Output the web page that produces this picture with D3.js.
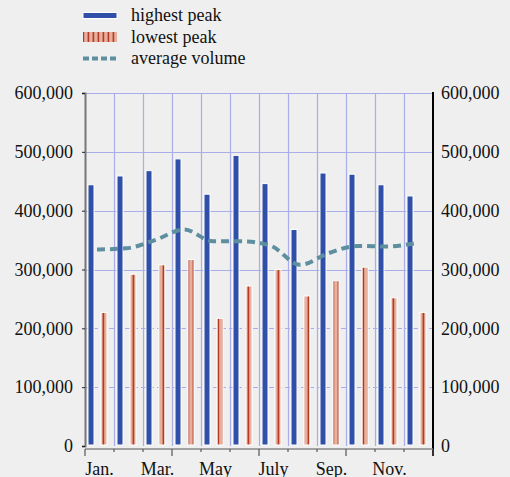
<!DOCTYPE html>
<html><head><meta charset="utf-8">
<script src="https://cdn.jsdelivr.net/npm/d3@7"></script>
<style>
html,body{margin:0;padding:0;background:#efefef;}
svg{display:block;}
text{font-family:"Liberation Serif","Times New Roman",serif;fill:#111;}
</style></head>
<body>
<script>
const months = ["Jan.","Feb.","Mar.","Apr.","May","June","July","Aug.","Sep.","Oct.","Nov.","Dec."];
const labeledMonths = ["Jan.","Mar.","May","July","Sep.","Nov."];
const highestPeak = [444000,459000,468000,488000,428000,494000,446000,368000,464000,462000,444000,425000];
const lowestPeak  = [227000,292000,308000,317000,217000,272000,300000,255000,281000,304000,252000,227000];
const averageVolume = [334000,336000,350000,368000,348000,348000,340000,308000,328000,340000,339000,345000];
const yTicks = [0,100000,200000,300000,400000,500000,600000];
const seriesNames = ["highest peak","lowest peak","average volume"];

(function(){
const W = 510, H = 477;
const svg = d3.select("body").append("svg").attr("width", W).attr("height", H);

const defs = svg.append("defs");
const pat = defs.append("pattern").attr("id","stripes").attr("patternUnits","userSpaceOnUse")
  .attr("width",5).attr("height",10).attr("x",0);
pat.append("rect").attr("width",5).attr("height",10).attr("fill","#e8b09c");
pat.append("rect").attr("x",2.6).attr("width",1.6).attr("height",10).attr("fill","#b23a26");

const pLeft = 85, pRight = 433, pTop = 93, pBottom = 446;
const x = d3.scaleBand().domain(months).range([pLeft, pRight]).padding(0);
const xs = d3.scaleBand().domain(["high","low"]).range([3, 22]).paddingInner(0.538).paddingOuter(0);
const y = d3.scaleLinear().domain([0, 600000]).range([pBottom, pTop]);
const fmt = d3.format(",");

// grid
const grid = svg.append("g");
grid.selectAll("line.h").data(yTicks.filter(v => v > 0)).join("line")
  .attr("x1", pLeft).attr("x2", pRight)
  .attr("y1", d => Math.round(y(d)) + 0.5).attr("y2", d => Math.round(y(d)) + 0.5)
  .attr("stroke", "#a9aeea").attr("stroke-width", 1.2)
  .attr("stroke-dasharray", d => d < 300000 ? "5,3" : null);
grid.selectAll("line.v").data(months.slice(1)).join("line")
  .attr("x1", d => x(d) + 0.5).attr("x2", d => x(d) + 0.5)
  .attr("y1", pTop).attr("y2", pBottom)
  .attr("stroke", "#a9aeea").attr("stroke-width", 1.2);

// bars
const bars = svg.append("g");
bars.selectAll("rect.hi").data(months).join("rect")
  .attr("x", d => x(d) + xs("high"))
  .attr("width", xs.bandwidth())
  .attr("y", (d,i) => y(highestPeak[i]))
  .attr("height", (d,i) => pBottom - 1 - y(highestPeak[i]))
  .attr("fill", "#2f4fa9").attr("stroke", "#fff").attr("stroke-width", 1);
bars.selectAll("rect.lo").data(months).join("rect")
  .attr("x", d => x(d) + xs("low"))
  .attr("width", xs.bandwidth())
  .attr("y", (d,i) => y(lowestPeak[i]))
  .attr("height", (d,i) => pBottom - 1 - y(lowestPeak[i]))
  .attr("fill", "url(#stripes)").attr("stroke", "#fff").attr("stroke-width", 1);

// average line
const line = d3.line()
  .x((d,i) => x(months[i]) + 12)
  .y(d => y(d))
  .curve(d3.curveMonotoneX);
svg.append("path").datum(averageVolume).attr("d", line)
  .attr("fill","none").attr("stroke","#5e8f9f").attr("stroke-width",4)
  .attr("stroke-dasharray","8,5");

// left axis
const yl = svg.append("g").attr("transform", `translate(${pLeft},0)`)
  .call(d3.axisLeft(y).tickValues(yTicks).tickFormat(fmt).tickSize(3).tickPadding(9));
yl.select(".domain").attr("stroke","#777").attr("stroke-width",2);
yl.selectAll(".tick line").attr("stroke","#222");
yl.selectAll(".tick text").attr("font-size", 18).attr("font-family","Liberation Serif").attr("fill","#111");

// right axis
const yr = svg.append("g").attr("transform", `translate(${pRight},0)`)
  .call(d3.axisRight(y).tickValues(yTicks).tickFormat(fmt).tickSize(0).tickPadding(8));
yr.select(".domain").remove();
svg.append("line").attr("x1", pRight).attr("x2", pRight).attr("y1", pTop - 1).attr("y2", 456)
  .attr("stroke","#000").attr("stroke-width",2);
yr.selectAll(".tick text").attr("font-size", 18).attr("font-family","Liberation Serif").attr("fill","#111");

// x axis
const xa = svg.append("g");
const axY = 449;
xa.append("line").attr("x1", pLeft).attr("x2", pRight).attr("y1", axY).attr("y2", axY)
  .attr("stroke","#888").attr("stroke-width",1.5);
const bounds = months.map(m => x(m)).concat([pRight]);
xa.selectAll("line.t").data(bounds).join("line")
  .attr("x1", d => d).attr("x2", d => d)
  .attr("y1", axY).attr("y2", (d,i) => i % 3 === 0 ? 456 : 452)
  .attr("stroke","#555").attr("stroke-width",1.2);
xa.selectAll("text").data(labeledMonths).join("text")
  .attr("x", d => x(d) + x.bandwidth()/2)
  .attr("y", 475)
  .attr("text-anchor","middle").attr("font-size",18).text(d => d);

// legend
const lg = svg.append("g");
const rows = [15.5, 37, 58.5];
lg.append("rect").attr("x",83).attr("y",rows[0]-3).attr("width",34).attr("height",6)
  .attr("fill","#2f4fa9").attr("stroke","#fff").attr("stroke-width",1);
lg.append("rect").attr("x",83).attr("y",rows[1]-5).attr("width",34).attr("height",10)
  .attr("fill","url(#stripes)");
lg.append("line").attr("x1",83).attr("x2",117).attr("y1",rows[2]).attr("y2",rows[2])
  .attr("stroke","#5e8f9f").attr("stroke-width",4).attr("stroke-dasharray","6,3");
lg.selectAll("text").data(seriesNames).join("text")
  .attr("x",131).attr("y",(d,i)=>rows[i]+5.5).attr("font-size",18).text(d=>d);
})();
</script>
</body></html>
